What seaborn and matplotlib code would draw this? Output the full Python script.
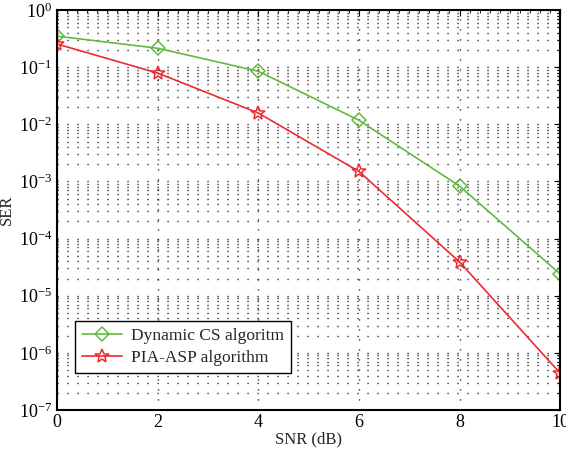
import numpy as np
import pandas as pd
import matplotlib
matplotlib.use("Agg")
import matplotlib.pyplot as plt
import seaborn as sns
from matplotlib.ticker import LogLocator, NullFormatter, FixedLocator, MultipleLocator

snr_db = [0, 2, 4, 6, 8, 10]
ser_dynamic_cs = [0.35, 0.215, 0.085, 0.0118, 8.3e-4, 2.4e-5]
ser_pia_asp = [0.255, 0.079, 0.0158, 1.5e-3, 3.9e-5, 4.4e-7]
series_names = ["Dynamic CS algoritm", "PIA-ASP algorithm"]

df = pd.DataFrame({
    "SNR": snr_db * 2,
    "SER": ser_dynamic_cs + ser_pia_asp,
    "method": [series_names[0]] * len(snr_db) + [series_names[1]] * len(snr_db),
})

sns.set_theme(style="white")
plt.rcParams["font.family"] = ["Liberation Serif", "DejaVu Serif"]
plt.rcParams["mathtext.fontset"] = "stix"

fig = plt.figure(figsize=(5.66, 4.49), dpi=100)
ax = fig.add_axes([0.1007, 0.087, 0.889, 0.8905])

palette = {series_names[0]: "#62b93f", series_names[1]: "#ee2a2f"}
markers = {series_names[0]: "D", series_names[1]: "*"}
sizes = {series_names[0]: 7, series_names[1]: 10}

for name in series_names:
    sub = df[df["method"] == name]
    sns.lineplot(data=sub, x="SNR", y="SER", ax=ax, color=palette[name],
                 marker=markers[name], markersize=sizes[name],
                 markerfacecolor="none", markeredgecolor=palette[name],
                 markeredgewidth=1.1, linewidth=1.2, label=name)

ax.set_yscale("log")
ax.set_xlim(0, 10)
ax.set_ylim(1e-7, 1)
ax.xaxis.set_major_locator(FixedLocator([0, 2, 4, 6, 8, 10]))
ax.xaxis.set_minor_locator(MultipleLocator(0.2))
ax.set_xticklabels(["0", "2", "4", "6", "8", "10"])
ax.yaxis.set_major_locator(LogLocator(base=10, numticks=10))
ax.yaxis.set_minor_locator(LogLocator(base=10, subs=np.arange(2, 10), numticks=100))
ax.yaxis.set_minor_formatter(NullFormatter())

dot = (0, (0.8, 6.4))
ax.grid(which="major", axis="x", color="black", linestyle=dot, linewidth=1.0)
ax.grid(which="both", axis="y", color="black", linestyle=dot, linewidth=1.0)

ax.tick_params(axis="both", which="both", direction="in", top=True, right=True,
               labelsize=13, colors="black")
ax.tick_params(axis="x", which="major", pad=3)
ax.tick_params(which="major", length=4, width=0.8)
ax.tick_params(which="minor", length=2, width=0.6)
for s in ax.spines.values():
    s.set_color("black")
    s.set_linewidth(1.5)

ax.set_xlabel("SNR (dB)", fontsize=12, labelpad=0)
ax.set_ylabel("SER", fontsize=12, labelpad=3)

leg = ax.legend(loc="lower left", bbox_to_anchor=(0.036, 0.092), fontsize=12.5,
                frameon=True, fancybox=False, edgecolor="black",
                borderpad=0.4, handlelength=2.3, labelspacing=0.35,
                handletextpad=0.5, borderaxespad=0)
leg.get_frame().set_linewidth(1.0)
leg.get_frame().set_facecolor("white")
leg.get_frame().set_alpha(1)

fig.savefig("out.png", dpi=100)
